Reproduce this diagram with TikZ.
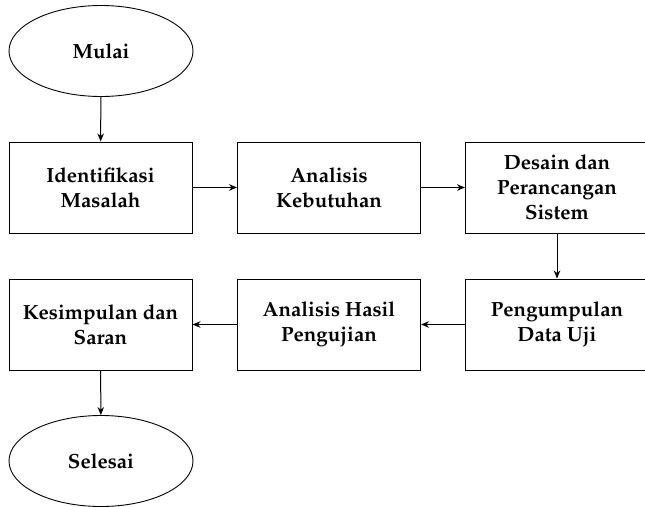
\documentclass[tikz,border=0pt]{standalone}
\usepackage[T1]{fontenc}
\usepackage{mathpazo}
\usetikzlibrary{shapes.geometric,arrows.meta}
\begin{document}
\begin{tikzpicture}[x=1pt,y=-1pt,
  every node/.style={font=\fontsize{20.5}{25}\selectfont\bfseries, align=center, inner sep=0pt},
  procbox/.style={draw, line width=1pt, minimum width=183pt, minimum height=91pt},
  termnode/.style={draw, ellipse, line width=0.9pt, minimum width=184pt, minimum height=91pt},
  flow/.style={line width=1pt, -{Stealth[length=8pt,width=6.5pt]}}]
\useasboundingbox (0,0) rectangle (645,506);
\clip (0,0) rectangle (645,506);
\node[termnode] (mulai) at (101,51) {Mulai};
\node[procbox] (b1) at (100.5,187.5) {Identifikasi\\Masalah};
\node[procbox] (b2) at (329,187.5) {Analisis\\Kebutuhan};
\node[procbox] (b3) at (557,187.5) {Desain dan\\Perancangan\\Sistem};
\node[procbox] (b4) at (557,324.5) {Pengumpulan\\Data Uji};
\node[procbox] (b5) at (329,324.5) {Analisis Hasil\\Pengujian};
\node[procbox] (b6) at (100.5,324.5) {Kesimpulan dan\\Saran};
\node[termnode] (selesai) at (101,461) {Selesai};
\draw[flow] (mulai) -- (b1);
\draw[flow] (b1) -- (b2);
\draw[flow] (b2) -- (b3);
\draw[flow] (b3) -- (b4);
\draw[flow] (b4) -- (b5);
\draw[flow] (b5) -- (b6);
\draw[flow] (b6) -- (selesai);
\end{tikzpicture}
\end{document}
